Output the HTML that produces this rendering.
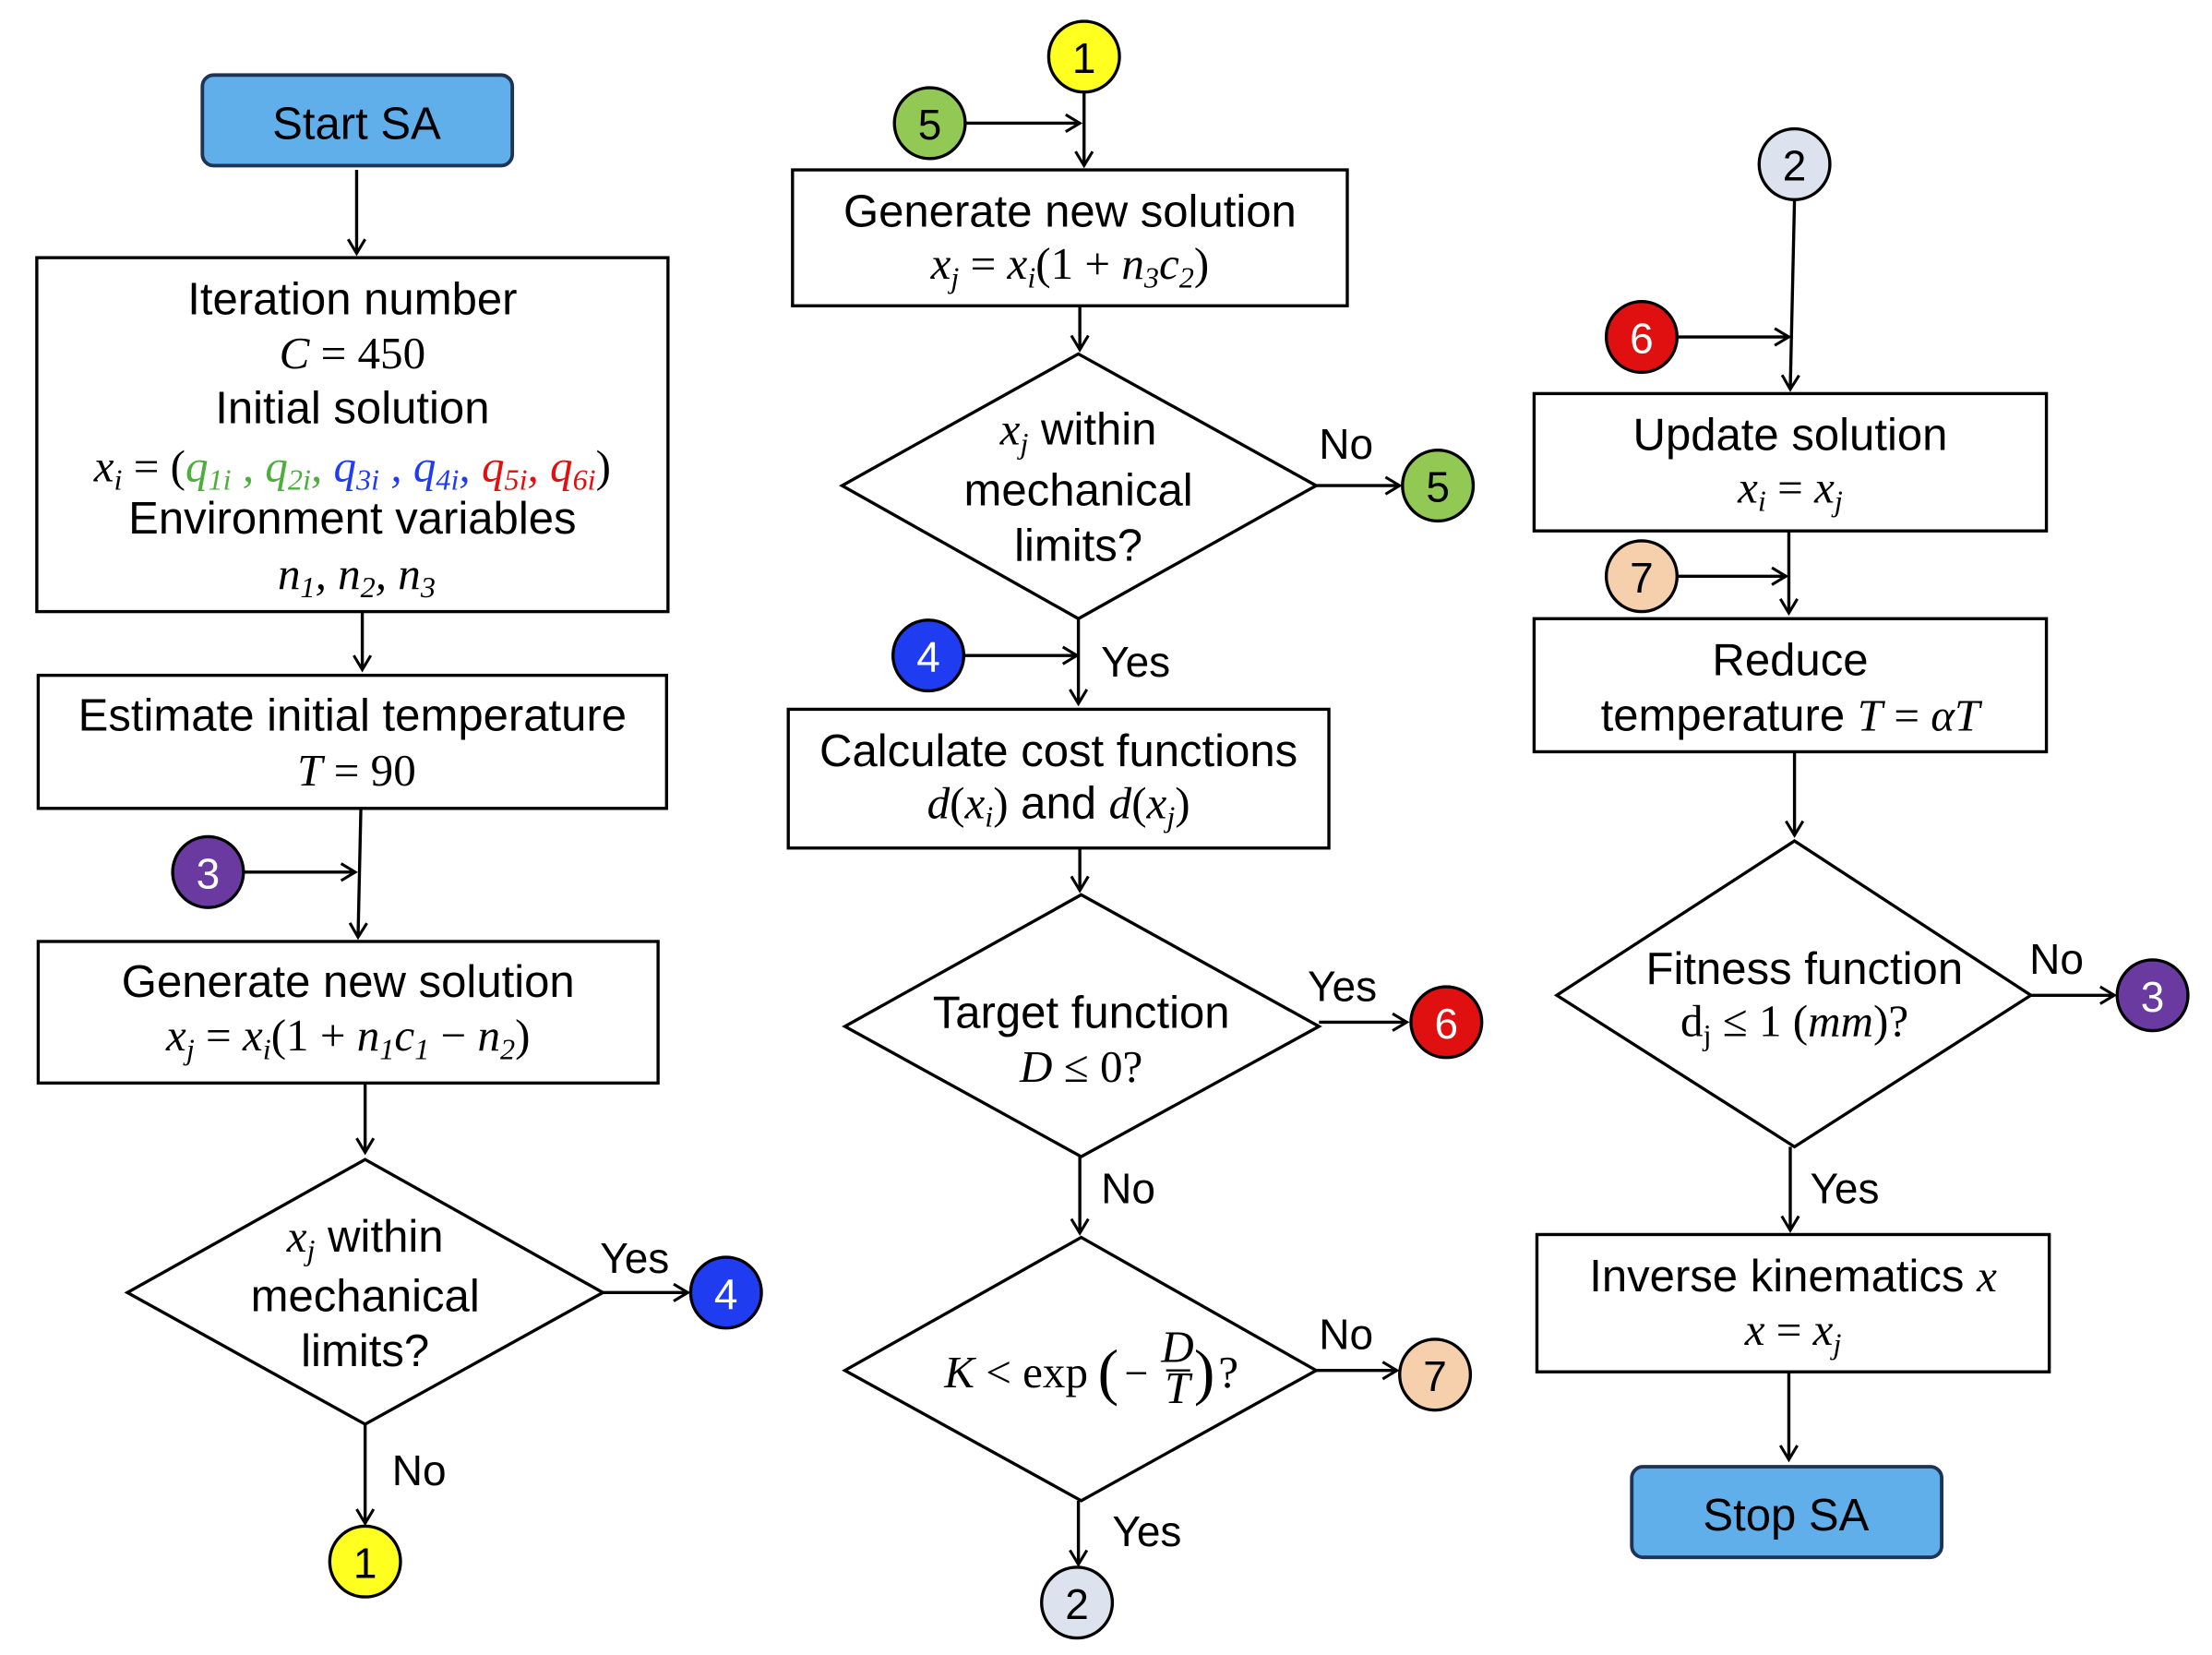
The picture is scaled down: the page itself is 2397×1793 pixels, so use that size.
<!DOCTYPE html>
<html><head><meta charset="utf-8"><style>
html,body{margin:0;padding:0;background:#fff}
svg{display:block}
.t{font-family:"Liberation Sans",sans-serif;font-size:32px;text-anchor:middle;fill:#000}
.m{font-family:"Liberation Serif",serif;font-style:italic;font-size:32px;text-anchor:middle;fill:#000}
.c{font-family:"Liberation Sans",sans-serif;font-size:30px;text-anchor:middle;dominant-baseline:central}
.l{font-family:"Liberation Sans",sans-serif;font-size:30px;fill:#000}
</style></head><body>
<svg width="2397" height="1793" viewBox="0 0 1563 1169" preserveAspectRatio="none" xmlns="http://www.w3.org/2000/svg">
<defs><marker id="a" markerWidth="14" markerHeight="14" refX="11" refY="7" orient="auto" markerUnits="userSpaceOnUse"><polyline points="1,1 11,7 1,13" fill="none" stroke="#000" stroke-width="2"/></marker></defs>
<g stroke="#000" stroke-width="2.2" fill="none">
<rect x="143" y="53" width="219" height="64" rx="8" fill="#60aeea" stroke="#1f3355" stroke-width="2.5"/>
<line x1="252" y1="120" x2="252" y2="179" marker-end="url(#a)"/>
<rect x="26" y="182" width="446" height="250"/>
<line x1="256" y1="432" x2="256" y2="473" marker-end="url(#a)"/>
<rect x="27" y="477" width="444" height="94"/>
<line x1="255" y1="571" x2="253" y2="662" marker-end="url(#a)"/>
<line x1="172" y1="616" x2="251" y2="616" marker-end="url(#a)"/>
<rect x="27" y="665" width="438" height="100"/>
<line x1="258" y1="765" x2="258" y2="814" marker-end="url(#a)"/>
<polygon points="258,819 426,913 258,1006 90,913"/>
<line x1="426" y1="913" x2="486" y2="913" marker-end="url(#a)"/>
<line x1="258" y1="1006" x2="258" y2="1076" marker-end="url(#a)"/>
<line x1="766" y1="65" x2="766" y2="117" marker-end="url(#a)"/>
<line x1="683" y1="87" x2="763" y2="87" marker-end="url(#a)"/>
<rect x="560" y="120" width="392" height="96"/>
<line x1="763" y1="216" x2="763" y2="247" marker-end="url(#a)"/>
<polygon points="762,250 930,343 762,437 595,343"/>
<line x1="930" y1="343" x2="989" y2="343" marker-end="url(#a)"/>
<line x1="682" y1="463" x2="761" y2="463" marker-end="url(#a)"/>
<line x1="762" y1="437" x2="762" y2="497" marker-end="url(#a)"/>
<rect x="557" y="501" width="382" height="98"/>
<line x1="763" y1="599" x2="763" y2="629" marker-end="url(#a)"/>
<polygon points="764,632 932,725 764,817 597,725"/>
<line x1="932" y1="722" x2="994" y2="722" marker-end="url(#a)"/>
<line x1="763" y1="817" x2="763" y2="871" marker-end="url(#a)"/>
<polygon points="764,874 930,968 764,1060 597,968"/>
<line x1="930" y1="968" x2="987" y2="968" marker-end="url(#a)"/>
<line x1="762" y1="1060" x2="762" y2="1105" marker-end="url(#a)"/>
<line x1="1268" y1="141" x2="1265" y2="275" marker-end="url(#a)"/>
<line x1="1186" y1="238" x2="1264" y2="238" marker-end="url(#a)"/>
<rect x="1084" y="278" width="362" height="97"/>
<line x1="1264" y1="375" x2="1264" y2="433" marker-end="url(#a)"/>
<line x1="1186" y1="407" x2="1262" y2="407" marker-end="url(#a)"/>
<rect x="1084" y="437" width="362" height="94"/>
<line x1="1268" y1="531" x2="1268" y2="590" marker-end="url(#a)"/>
<polygon points="1268,594 1435,703 1268,810 1100,703"/>
<line x1="1435" y1="703" x2="1494" y2="703" marker-end="url(#a)"/>
<line x1="1265" y1="810" x2="1265" y2="869" marker-end="url(#a)"/>
<rect x="1086" y="872" width="362" height="97"/>
<line x1="1264" y1="969" x2="1264" y2="1031" marker-end="url(#a)"/>
<rect x="1153" y="1036" width="219" height="64" rx="8" fill="#60aeea" stroke="#1f3355" stroke-width="2.5"/>
<circle cx="147" cy="616" r="25" fill="#6a3aa0"/>
<circle cx="513" cy="913" r="25" fill="#1f3cf0"/>
<circle cx="258" cy="1103" r="25" fill="#ffff20"/>
<circle cx="766" cy="40" r="25" fill="#ffff20"/>
<circle cx="657" cy="87" r="25" fill="#92c955"/>
<circle cx="1016" cy="343" r="25" fill="#92c955"/>
<circle cx="656" cy="463" r="25" fill="#1f3cf0"/>
<circle cx="1022" cy="722" r="25" fill="#e01010"/>
<circle cx="1014" cy="971" r="25" fill="#f6cfac"/>
<circle cx="761" cy="1132" r="25" fill="#dde3ee"/>
<circle cx="1268" cy="116" r="25" fill="#dde3ee"/>
<circle cx="1160" cy="238" r="25" fill="#e01010"/>
<circle cx="1160" cy="407" r="25" fill="#f6cfac"/>
<circle cx="1521" cy="703" r="25" fill="#6a3aa0"/>
</g>
<g class="c">
<text x="147" y="617" fill="#fff">3</text>
<text x="513" y="914" fill="#fff">4</text>
<text x="258" y="1104">1</text>
<text x="766" y="41">1</text>
<text x="657" y="88">5</text>
<text x="1016" y="344">5</text>
<text x="656" y="464" fill="#fff">4</text>
<text x="1022" y="723" fill="#fff">6</text>
<text x="1014" y="972">7</text>
<text x="761" y="1133">2</text>
<text x="1268" y="117">2</text>
<text x="1160" y="239" fill="#fff">6</text>
<text x="1160" y="408">7</text>
<text x="1521" y="704" fill="#fff">3</text>
</g>
<text class="t" x="252" y="98">Start SA</text>
<text class="t" x="249" y="222">Iteration number</text>
<text class="m" x="249" y="260"><tspan>C</tspan><tspan font-style="normal"> = 450</tspan></text>
<text class="t" x="249" y="299">Initial solution</text>
<text class="m" x="249" y="340">x<tspan font-size="21" dy="6">i</tspan><tspan dy="-6" font-style="normal"> = (</tspan><tspan fill="#4caf3c">q<tspan font-size="21" dy="6">1i</tspan><tspan dy="-6"> , q</tspan><tspan font-size="21" dy="6">2i</tspan><tspan dy="-6">,</tspan></tspan><tspan fill="#1f3cf0"> q<tspan font-size="21" dy="6">3i</tspan><tspan dy="-6"> , q</tspan><tspan font-size="21" dy="6">4i</tspan><tspan dy="-6">,</tspan></tspan><tspan fill="#e01010"> q<tspan font-size="21" dy="6">5i</tspan><tspan dy="-6">, q</tspan><tspan font-size="21" dy="6">6i</tspan></tspan><tspan dy="-6" font-style="normal">)</tspan></text>
<text class="t" x="249" y="377">Environment variables</text>
<text class="m" x="252" y="416">n<tspan font-size="21" dy="6">1</tspan><tspan dy="-6">, n</tspan><tspan font-size="21" dy="6">2</tspan><tspan dy="-6">, n</tspan><tspan font-size="21" dy="6">3</tspan></text>
<text class="t" x="249" y="516">Estimate initial temperature</text>
<text class="m" x="252" y="555">T<tspan font-style="normal"> = 90</tspan></text>
<text class="t" x="246" y="704">Generate new solution</text>
<text class="m" x="246" y="742">x<tspan font-size="21" dy="6">j</tspan><tspan dy="-6" font-style="normal"> = </tspan>x<tspan font-size="21" dy="6">i</tspan><tspan dy="-6" font-style="normal">(1 + </tspan>n<tspan font-size="21" dy="6">1</tspan><tspan dy="-6">c</tspan><tspan font-size="21" dy="6">1</tspan><tspan dy="-6" font-style="normal"> − </tspan>n<tspan font-size="21" dy="6">2</tspan><tspan dy="-6" font-style="normal">)</tspan></text>
<text class="t" x="258" y="884"><tspan font-family="Liberation Serif" font-style="italic">x<tspan font-size="21" dy="6">j</tspan></tspan><tspan dy="-6"> within</tspan></text>
<text class="t" x="258" y="926">mechanical</text>
<text class="t" x="258" y="965">limits?</text>
<text class="l" x="424" y="899">Yes</text>
<text class="l" x="277" y="1049">No</text>

<text class="t" x="756" y="160">Generate new solution</text>
<text class="m" x="756" y="197">x<tspan font-size="21" dy="6">j</tspan><tspan dy="-6" font-style="normal"> = </tspan>x<tspan font-size="21" dy="6">i</tspan><tspan dy="-6" font-style="normal">(1 + </tspan>n<tspan font-size="21" dy="6">3</tspan><tspan dy="-6">c</tspan><tspan font-size="21" dy="6">2</tspan><tspan dy="-6" font-style="normal">)</tspan></text>
<text class="t" x="762" y="314"><tspan font-family="Liberation Serif" font-style="italic">x<tspan font-size="21" dy="6">j</tspan></tspan><tspan dy="-6"> within</tspan></text>
<text class="t" x="762" y="357">mechanical</text>
<text class="t" x="762" y="396">limits?</text>
<text class="l" x="932" y="324">No</text>
<text class="l" x="778" y="478">Yes</text>
<text class="t" x="748" y="541">Calculate cost functions</text>
<text class="t" x="748" y="578"><tspan font-family="Liberation Serif" font-style="italic">d</tspan><tspan font-family="Liberation Serif">(</tspan><tspan font-family="Liberation Serif" font-style="italic">x<tspan font-size="21" dy="6">i</tspan></tspan><tspan font-family="Liberation Serif" dy="-6">)</tspan> and <tspan font-family="Liberation Serif" font-style="italic">d</tspan><tspan font-family="Liberation Serif">(</tspan><tspan font-family="Liberation Serif" font-style="italic">x<tspan font-size="21" dy="6">j</tspan></tspan><tspan font-family="Liberation Serif" dy="-6">)</tspan></text>
<text class="t" x="764" y="726">Target function</text>
<text class="m" x="764" y="764">D<tspan font-style="normal"> ≤ 0?</tspan></text>
<text class="l" x="924" y="707">Yes</text>
<text class="l" x="778" y="850">No</text>
<text class="m" x="718" y="980">K<tspan font-style="normal"> &lt; exp</tspan></text>
<text x="783" y="984" font-family="Liberation Serif" font-size="44" text-anchor="middle">(</text>
<text x="803" y="980" font-family="Liberation Serif" font-size="30" text-anchor="middle">−</text>
<text class="m" x="832" y="962" font-size="19">D</text>
<line x1="824" y1="968" x2="841" y2="968" stroke="#000" stroke-width="1.5"/>
<text class="m" x="832" y="991" font-size="19">T</text>
<text x="851" y="984" font-family="Liberation Serif" font-size="44" text-anchor="middle">)</text>
<text x="868" y="980" font-family="Liberation Serif" font-size="32" text-anchor="middle">?</text>
<text class="l" x="932" y="953">No</text>
<text class="l" x="786" y="1092">Yes</text>

<text class="t" x="1265" y="318">Update solution</text>
<text class="m" x="1265" y="355">x<tspan font-size="21" dy="6">i</tspan><tspan dy="-6" font-style="normal"> = </tspan>x<tspan font-size="21" dy="6">j</tspan></text>
<text class="t" x="1265" y="477">Reduce</text>
<text class="t" x="1265" y="516">temperature <tspan font-family="Liberation Serif" font-style="italic">T</tspan><tspan font-family="Liberation Serif"> = </tspan><tspan font-family="Liberation Serif" font-style="italic">αT</tspan></text>
<text class="t" x="1275" y="695">Fitness function</text>
<text class="t" x="1268" y="732"><tspan font-family="Liberation Serif">d</tspan><tspan font-family="Liberation Serif" font-size="21" dy="6">j</tspan><tspan font-family="Liberation Serif" dy="-6"> ≤ 1 (</tspan><tspan font-family="Liberation Serif" font-style="italic">mm</tspan><tspan font-family="Liberation Serif">)?</tspan></text>
<text class="l" x="1434" y="688">No</text>
<text class="l" x="1279" y="850">Yes</text>
<text class="t" x="1267" y="912">Inverse kinematics <tspan font-family="Liberation Serif" font-style="italic">x</tspan></text>
<text class="m" x="1267" y="950">x<tspan font-style="normal"> = </tspan>x<tspan font-size="21" dy="6">j</tspan></text>
<text class="t" x="1262" y="1081">Stop SA</text>
</svg>
</body></html>
